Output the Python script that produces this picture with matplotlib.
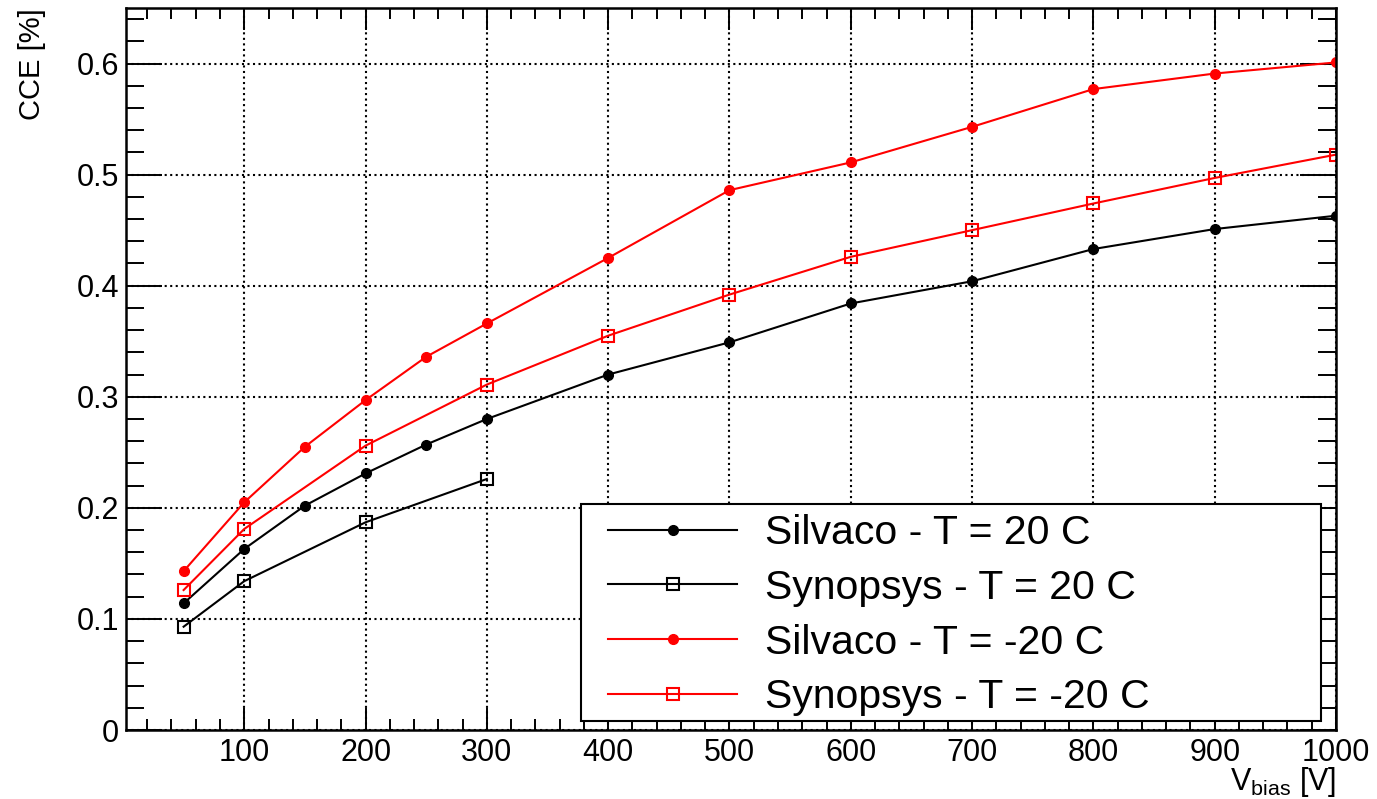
import matplotlib
matplotlib.use('Agg')
import matplotlib.pyplot as plt
from matplotlib.ticker import MultipleLocator
from matplotlib.patches import Rectangle

plt.rcParams['font.family'] = ['Liberation Sans', 'DejaVu Sans']
plt.rcParams['mathtext.fontset'] = 'custom'
plt.rcParams['mathtext.rm'] = 'Liberation Sans'

# Silvaco / Synopsys simulations, CCE vs bias voltage
v_silvaco = [50, 100, 150, 200, 250, 300, 400, 500, 600, 700, 800, 900, 1000]
cce_silvaco_20 = [0.114, 0.163, 0.202, 0.231, 0.257, 0.280, 0.320, 0.349,
                  0.384, 0.404, 0.433, 0.451, 0.463]
cce_silvaco_m20 = [0.143, 0.205, 0.255, 0.297, 0.336, 0.366, 0.425, 0.486,
                   0.511, 0.543, 0.577, 0.591, 0.601]

v_syn_20 = [50, 100, 200, 300]
cce_syn_20 = [0.093, 0.134, 0.187, 0.226]

v_syn_m20 = [50, 100, 200, 300, 400, 500, 600, 700, 800, 900, 1000]
cce_syn_m20 = [0.126, 0.181, 0.256, 0.311, 0.355, 0.392, 0.426, 0.450,
               0.474, 0.497, 0.518]

labels = ['Silvaco - T = 20 C', 'Synopsys - T = 20 C',
          'Silvaco - T = -20 C', 'Synopsys - T = -20 C']

W, H = 1377, 799
fig = plt.figure(figsize=(W/100, H/100), dpi=100)
ax = fig.add_axes([126/W, 1 - 730/H, (1336 - 126)/W, (730 - 8)/H])

ax.plot(v_silvaco, cce_silvaco_20, '-', color='black', lw=1.5,
        marker='o', ms=7, label=labels[0])
ax.plot(v_syn_20, cce_syn_20, '-', color='black', lw=1.5,
        marker='s', ms=8, mfc='none', mew=1.5, label=labels[1])
ax.plot(v_silvaco, cce_silvaco_m20, '-', color='red', lw=1.5,
        marker='o', ms=7, label=labels[2])
ax.plot(v_syn_m20, cce_syn_m20, '-', color='red', lw=1.5,
        marker='s', ms=8, mfc='none', mew=1.5, label=labels[3])

ax.set_xlim(2.5, 1000)
ax.set_ylim(0, 0.65)
ax.xaxis.set_major_locator(MultipleLocator(100))
ax.xaxis.set_minor_locator(MultipleLocator(20))
ax.yaxis.set_major_locator(MultipleLocator(0.1))
ax.yaxis.set_minor_locator(MultipleLocator(0.02))
ax.set_xticks(range(100, 1001, 100))
ax.set_yticks([0, 0.1, 0.2, 0.3, 0.4, 0.5, 0.6])
ax.set_yticklabels(['0', '0.1', '0.2', '0.3', '0.4', '0.5', '0.6'])

ax.grid(True, which='major', color='black', linestyle=':', lw=1.5)
for s in ax.spines.values():
    s.set_linewidth(1.8)

ax.tick_params(axis='both', which='both', direction='in', top=True, right=True,
               width=1.4, labelsize=22)
ax.tick_params(axis='y', which='major', length=26, pad=5)
ax.tick_params(axis='y', which='minor', length=13)
ax.tick_params(axis='x', which='major', length=16, pad=6)
ax.tick_params(axis='x', which='minor', length=8)

ax.text(1.0, -0.049, r'V$_{\mathrm{bias}}$ [V]', transform=ax.transAxes,
        ha='right', va='top', fontsize=22)
fig.text(32/W, 1 - 8/H, 'CCE [%]', rotation=90, ha='center', va='top',
         fontsize=21)

# legend box drawn by hand, entries placed inside it
box = Rectangle((581/W, 1 - 721/H), (1321 - 581)/W, (721 - 504)/H,
                transform=fig.transFigure, facecolor='white',
                edgecolor='black', lw=1.5, zorder=3)
fig.add_artist(box)
leg = fig.legend(loc='upper left', bbox_to_anchor=(608/W, 1 - 514/H),
                 fontsize=29.5, frameon=False, handlelength=3.15,
                 handletextpad=0.68, labelspacing=0.41, borderpad=0,
                 borderaxespad=0)
leg.set_zorder(4)

fig.savefig('out.png', dpi=100)
